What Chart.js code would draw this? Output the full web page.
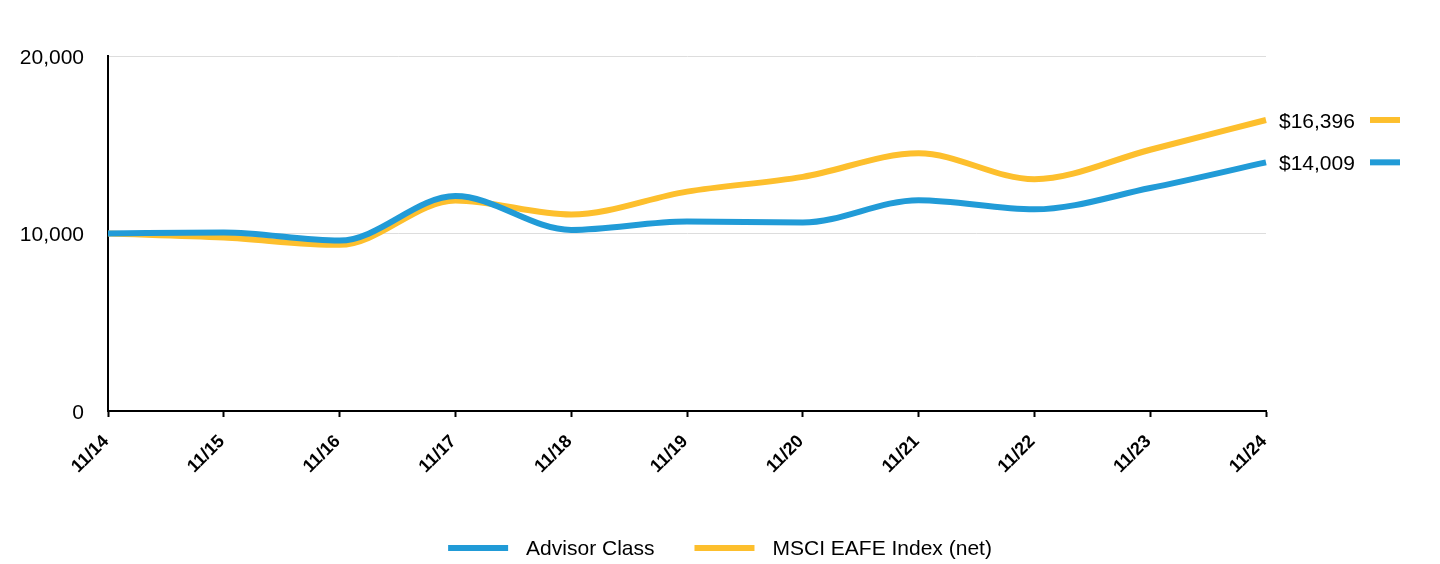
<!DOCTYPE html>
<html>
<head>
<meta charset="utf-8">
<script src="https://cdn.jsdelivr.net/npm/chart.js@4.4.1/dist/chart.umd.min.js"></script>
<style>
  html, body { margin: 0; padding: 0; background: #ffffff; }
  #wrap { width: 1440px; height: 564px; position: relative; }
</style>
</head>
<body>
<div id="wrap"><canvas id="c" width="1440" height="564"></canvas></div>
<script>
const categories = ['11/14','11/15','11/16','11/17','11/18','11/19','11/20','11/21','11/22','11/23','11/24'];
const advisorClass = [10000, 10060, 9600, 12110, 10200, 10670, 10620, 11880, 11360, 12560, 14009];
const msciEafe     = [10000, 9770, 9360, 11860, 11070, 12360, 13190, 14520, 13060, 14720, 16396];
const yTicks = [0, 10000, 20000];
const seriesNames = ['Advisor Class', 'MSCI EAFE Index (net)'];
const seriesColors = ['#219bd7', '#fdbf2d'];

const FONT = '"Liberation Sans", Arial, Helvetica, sans-serif';

const endLabels = {
  id: 'endLabels',
  afterDatasetsDraw(chart) {
    const ctx = chart.ctx;
    const area = chart.chartArea;
    chart.data.datasets.forEach((ds, i) => {
      const meta = chart.getDatasetMeta(i);
      const pt = meta.data[meta.data.length - 1];
      const v = ds.data[ds.data.length - 1];
      const txt = '$' + v.toLocaleString('en-US');
      ctx.save();
      ctx.font = '21px ' + FONT;
      ctx.fillStyle = '#000';
      ctx.textBaseline = 'middle';
      ctx.textAlign = 'left';
      ctx.fillText(txt, area.right + 13, pt.y + 2);
      ctx.strokeStyle = ds.borderColor;
      ctx.lineWidth = 6;
      ctx.beginPath();
      ctx.moveTo(area.right + 104, pt.y);
      ctx.lineTo(area.right + 134, pt.y);
      ctx.stroke();
      ctx.restore();
    });
  }
};

const bottomLegend = {
  id: 'bottomLegend',
  afterDraw(chart) {
    const ctx = chart.ctx;
    const sw = 60, gapText = 18, gapItem = 40, cy = 548;
    ctx.save();
    ctx.font = '21px ' + FONT;
    const items = chart.data.datasets.map(ds => ({ text: ds.label, color: ds.borderColor, w: ctx.measureText(ds.label).width }));
    let total = 0;
    items.forEach((it, i) => { total += sw + gapText + it.w + (i < items.length - 1 ? gapItem : 0); });
    let x = chart.width / 2 - total / 2;
    items.forEach(it => {
      ctx.strokeStyle = it.color;
      ctx.lineWidth = 6;
      ctx.beginPath();
      ctx.moveTo(x, cy);
      ctx.lineTo(x + sw, cy);
      ctx.stroke();
      x += sw + gapText;
      ctx.fillStyle = '#000';
      ctx.textBaseline = 'middle';
      ctx.textAlign = 'left';
      ctx.fillText(it.text, x, cy + 1);
      x += it.w + gapItem;
    });
    ctx.restore();
  }
};

new Chart(document.getElementById('c'), {
  type: 'line',
  data: {
    labels: categories,
    datasets: [
      { label: seriesNames[0], data: advisorClass, borderColor: seriesColors[0], backgroundColor: seriesColors[0],
        borderWidth: 6, pointRadius: 0, cubicInterpolationMode: 'monotone', fill: false, order: 1 },
      { label: seriesNames[1], data: msciEafe, borderColor: seriesColors[1], backgroundColor: seriesColors[1],
        borderWidth: 6, pointRadius: 0, cubicInterpolationMode: 'monotone', fill: false, order: 2 }
    ]
  },
  options: {
    responsive: false,
    animation: false,
    devicePixelRatio: 1,
    layout: { padding: { left: 0, right: 174, top: 56, bottom: 0 } },
    plugins: {
      legend: { display: false },
      tooltip: { enabled: false }
    },
    scales: {
      x: {
        offset: false,
        grid: { drawOnChartArea: false, drawTicks: true, tickLength: 6, tickColor: '#000', tickWidth: 2 },
        border: { color: '#000', width: 2 },
        ticks: { color: '#000', maxRotation: 45, minRotation: 45, padding: 14, autoSkip: false,
                 labelOffset: -2,
                 font: { size: 18, weight: 'bold', family: FONT } },
        afterFit(scale) { scale.height = 153; }
      },
      y: {
        min: 0, max: 20000,
        afterBuildTicks(scale) { scale.ticks = yTicks.map(v => ({ value: v })); },
        grid: { color: '#dddddd', lineWidth: 1, drawTicks: false },
        border: { color: '#000', width: 2 },
        ticks: { color: '#000', padding: 24, labelOffset: 2, font: { size: 21, family: FONT },
                 callback: v => v.toLocaleString('en-US') },
        afterFit(scale) { scale.width = 108; }
      }
    }
  },
  plugins: [endLabels, bottomLegend]
});
</script>
</body>
</html>
